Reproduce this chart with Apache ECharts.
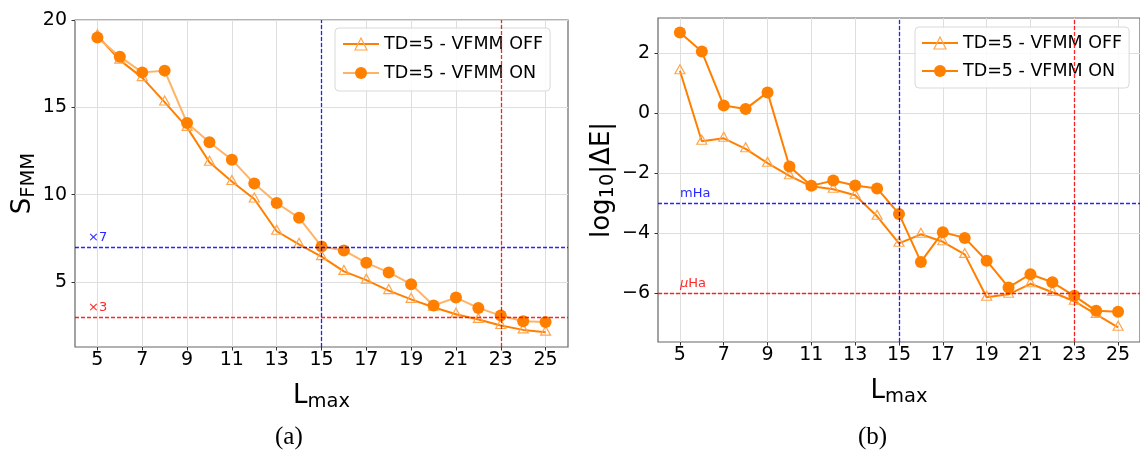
<!DOCTYPE html>
<html>
<head>
<meta charset="utf-8">
<script src="https://cdn.jsdelivr.net/npm/echarts@6/dist/echarts.min.js"></script>
<style>
  html, body { margin: 0; padding: 0; background: #ffffff; }
  #chart { width: 1140px; height: 456px; }
</style>
</head>
<body>
<div id="chart"></div>
<script>
// Maximum multipole order
const lmax = [5, 6, 7, 8, 9, 10, 11, 12, 13, 14, 15, 16, 17, 18, 19, 20, 21, 22, 23, 24, 25];
const X_MIN = 4, X_MAX = 26;

// (a) FMM speed-up
const sfmmOff = [19.1, 17.7, 16.7, 15.3, 13.85, 11.85, 10.75, 9.75, 7.9, 7.15, 6.45, 5.6, 5.1, 4.5, 4.0, 3.55, 3.15, 2.85, 2.5, 2.25, 2.12];
const sfmmOn  = [19.0, 17.9, 17.0, 17.1, 14.1, 13.0, 12.0, 10.63, 9.52, 8.67, 7.03, 6.8, 6.09, 5.54, 4.87, 3.65, 4.1, 3.51, 3.07, 2.75, 2.7];

// (b) log10 of the absolute energy error
const dEOff = [1.4, -0.95, -0.85, -1.2, -1.68, -2.1, -2.45, -2.55, -2.75, -3.45, -4.35, -4.05, -4.3, -4.72, -6.15, -6.05, -5.7, -5.98, -6.28, -6.72, -7.15];
const dEOn  = [2.68, 2.04, 0.24, 0.13, 0.68, -1.79, -2.43, -2.26, -2.42, -2.52, -3.37, -4.97, -3.98, -4.17, -4.93, -5.82, -5.38, -5.65, -6.1, -6.6, -6.63];

// Tick positions
const xTicks = [5, 7, 9, 11, 13, 15, 17, 19, 21, 23, 25];
const sTicks = [5, 10, 15, 20];
const dETicks = [-6, -4, -2, 0, 2];

// Guide lines: vertical at two Lmax values, horizontal at target levels
const guideX = [15, 23];
const speedupGuides = [7, 3];
const speedupLabels = ['×7', '×3'];
const accuracyGuides = [-3, -6];
const accuracyLabels = ['mHa', '{i|μ}Ha'];

const NAME_OFF = 'TD=5 - VFMM OFF';
const NAME_ON = 'TD=5 - VFMM ON';

const ORANGE = '#ff8000';
const ORANGE_LIGHT = '#ffb366';
const TRI_EDGE = '#ffa64d';
const BLUE = '#0000ff';
const RED = '#ff0000';
const GUIDE_COLORS = [BLUE, RED];
const FONT = 'DejaVu Sans';

const pairs = (ys) => lmax.map((x, i) => [x, ys[i]]);
const minus = (v) => String(v).replace('-', '\u2212');

// Main text plus lowered subscript for axis titles
const titleRich = {
  m: { fontFamily: FONT, fontSize: 26, color: '#000', lineHeight: 30 },
  s: { fontFamily: FONT, fontSize: 19.5, color: '#000', lineHeight: 30, padding: [12, 0, 0, 0] }
};

function xAxisFor(gridIndex) {
  return {
    type: 'value', gridIndex, min: X_MIN, max: X_MAX,
    name: '{m|L}{s|max}', nameLocation: 'middle', nameGap: 34,
    nameTextStyle: { rich: titleRich },
    axisLine: { show: false, onZero: false },
    axisTick: { show: true, customValues: xTicks, length: 3.5, lineStyle: { color: '#333', width: 1 } },
    axisLabel: { customValues: xTicks, margin: 4, fontFamily: FONT, fontSize: 19, color: '#000' },
    splitLine: { show: true, lineStyle: { color: '#dedede', width: 1 } }
  };
}

function yAxisFor(gridIndex, min, max, ticks, name, nameGap) {
  return {
    type: 'value', gridIndex, min, max,
    name, nameLocation: 'middle', nameGap, nameRotate: 90,
    nameTextStyle: { rich: titleRich },
    axisLine: { show: false, onZero: false },
    axisTick: { show: true, customValues: ticks, length: 3.5, lineStyle: { color: '#333', width: 1 } },
    axisLabel: { customValues: ticks, margin: 8, fontFamily: FONT, fontSize: 19, color: '#000', formatter: minus },
    splitLine: { show: true, lineStyle: { color: '#dedede', width: 1 } }
  };
}

const guideLine = (color) => ({ color, opacity: 0.85, type: [4, 2], width: 1.3 });

// Dashed guides of one colour, carried by an empty helper series
function guideSeries(idx, color, xValue, yValue, labelText, labelDist) {
  return {
    type: 'line', xAxisIndex: idx, yAxisIndex: idx, data: [],
    silent: true,
    markLine: {
      silent: true, symbol: ['none', 'none'], animation: false,
      lineStyle: guideLine(color),
      label: {
        show: true, position: 'insideStartTop', distance: labelDist,
        formatter: (p) => (p.data.yAxis !== undefined ? labelText : ''),
        color, fontFamily: FONT, fontSize: 13,
        rich: { i: { fontFamily: FONT, fontSize: 13, fontStyle: 'italic', color } }
      },
      data: [{ xAxis: xValue }, { yAxis: yValue }]
    }
  };
}

function offSeries(idx, ys) {
  return {
    type: 'line', name: NAME_OFF, xAxisIndex: idx, yAxisIndex: idx, data: pairs(ys),
    symbol: 'triangle', symbolSize: [10, 9], symbolOffset: [0, -1.5],
    lineStyle: { color: ORANGE, width: 2 },
    itemStyle: { color: 'rgba(255,255,255,0)', borderColor: TRI_EDGE, borderWidth: 1.2 },
    emphasis: { disabled: true }
  };
}

function onSeries(idx, ys, lineColor) {
  return {
    type: 'line', name: NAME_ON, xAxisIndex: idx, yAxisIndex: idx, data: pairs(ys),
    symbol: 'circle', symbolSize: 12,
    lineStyle: { color: lineColor, width: 2 },
    itemStyle: { color: ORANGE },
    emphasis: { disabled: true }
  };
}

function legendAt(left, top, padding, itemGap, onLine) {
  return {
    orient: 'vertical', left, top, padding, itemGap,
    itemWidth: 36, itemHeight: 15, itemTextGap: 14,
    borderColor: '#d9d9d9', borderWidth: 1, borderRadius: 4,
    backgroundColor: 'rgba(255,255,255,0.85)',
    selectedMode: false,
    textStyle: { fontFamily: FONT, fontSize: 17.5, color: '#000' },
    data: [
      { name: NAME_OFF, lineStyle: { color: ORANGE }, itemStyle: { color: 'rgba(255,255,255,0)', borderColor: TRI_EDGE, borderWidth: 1.2 } },
      { name: NAME_ON, lineStyle: { color: onLine }, itemStyle: { color: ORANGE } }
    ]
  };
}

const series = [
  offSeries(0, sfmmOff),
  onSeries(0, sfmmOn, ORANGE_LIGHT),
  offSeries(1, dEOff),
  onSeries(1, dEOn, ORANGE)
];
GUIDE_COLORS.forEach((c, i) => {
  series.push(guideSeries(0, c, guideX[i], speedupGuides[i], speedupLabels[i], [13, 3]));
  series.push(guideSeries(1, c, guideX[i], accuracyGuides[i], accuracyLabels[i], [22, 3]));
});

const chart = echarts.init(document.getElementById('chart'), null, { renderer: 'canvas' });

chart.setOption({
  animation: false,
  backgroundColor: '#ffffff',
  grid: [
    { left: 75, top: 20, width: 493, height: 327, show: true, borderColor: '#666', borderWidth: 1.2, backgroundColor: 'transparent' },
    { left: 658, top: 18, width: 488, height: 324, show: true, borderColor: '#666', borderWidth: 1.2, backgroundColor: 'transparent' }
  ],
  xAxis: [xAxisFor(0), xAxisFor(1)],
  yAxis: [
    yAxisFor(0, 1.27, 20, sTicks, '{m|S}{s|FMM}', 37),
    yAxisFor(1, -7.64, 3.16, dETicks, '{m|log}{s|10}{m||ΔE|}', 34)
  ],
  legend: [
    legendAt(335, 28, [7, 7, 9, 7], 11, ORANGE_LIGHT),
    legendAt(915, 27, [7, 7, 8, 6], 10, ORANGE)
  ],
  title: [
    { text: '(a)', left: 270, top: 420, textStyle: { fontFamily: 'Liberation Serif', fontSize: 25, fontWeight: 'normal', color: '#000' } },
    { text: '(b)', left: 853, top: 420, textStyle: { fontFamily: 'Liberation Serif', fontSize: 25, fontWeight: 'normal', color: '#000' } }
  ],
  series
});
</script>
</body>
</html>
